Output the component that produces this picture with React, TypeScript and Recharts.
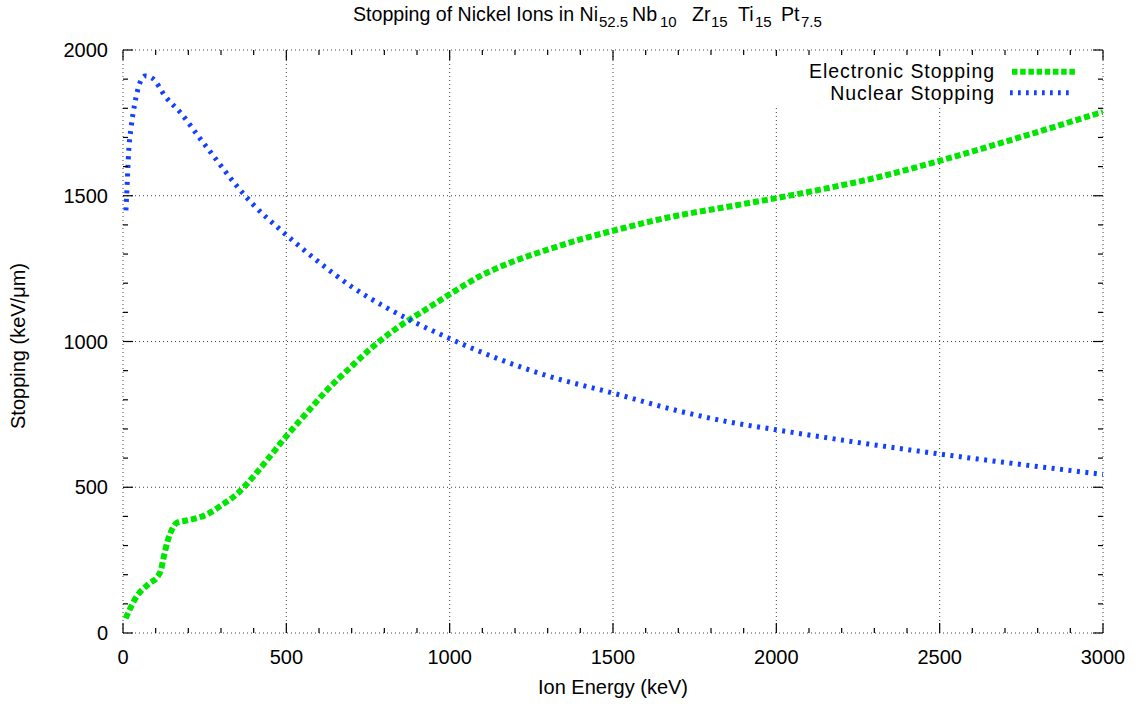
import React from 'react';
import { LineChart, Line, XAxis, YAxis, ReferenceLine, Legend } from 'recharts';

// ---------- data ----------
const X_MAJOR = [0, 500, 1000, 1500, 2000, 2500, 3000];
const Y_MAJOR = [0, 500, 1000, 1500, 2000];
const X_TICKS = [0, 100, 200, 300, 400, 500, 600, 700, 800, 900, 1000, 1100, 1200, 1300, 1400, 1500, 1600, 1700, 1800, 1900, 2000, 2100, 2200, 2300, 2400, 2500, 2600, 2700, 2800, 2900, 3000];
const Y_TICKS = [0, 100, 200, 300, 400, 500, 600, 700, 800, 900, 1000, 1100, 1200, 1300, 1400, 1500, 1600, 1700, 1800, 1900, 2000];

const SERIES_NAMES = ['Electronic Stopping', 'Nuclear Stopping'];

const electronicEnergy = [8, 20, 40, 80, 105, 115, 125, 137, 150, 165, 200, 255, 305, 350, 400, 440, 500, 560, 620, 700, 765, 850, 930, 1000, 1100, 1200, 1300, 1400, 1500, 1680, 1840, 2000, 2130, 2320, 2500, 2750, 3000];
const electronicValue = [50, 80, 122, 170, 192, 212, 262, 317, 355, 378, 387, 406, 441, 478, 538, 592, 675, 752, 828, 915, 982, 1055, 1112, 1162, 1228, 1277, 1315, 1350, 1380, 1428, 1460, 1492, 1520, 1566, 1620, 1702, 1788];

const nuclearEnergy = [9, 13, 17, 25, 36, 51, 68, 90, 130, 180, 230, 280, 340, 400, 480, 600, 700, 800, 900, 1000, 1150, 1300, 1500, 1700, 1850, 2000, 2200, 2500, 2750, 3000];
const nuclearValue = [1450, 1545, 1645, 1736, 1816, 1885, 1911, 1903, 1840, 1780, 1705, 1632, 1545, 1468, 1385, 1272, 1188, 1120, 1062, 1010, 940, 882, 823, 762, 725, 697, 662, 614, 578, 544];

const electronicData = electronicEnergy.map((e, i) => ({ e, v: electronicValue[i] }));
const nuclearData = nuclearEnergy.map((e, i) => ({ e, v: nuclearValue[i] }));

// title fragments: [text, isSubscript]
const TITLE_PARTS: [string, boolean][] = [
  ['Stopping of Nickel Ions in Ni', false],
  ['52.5', true],
  ['Nb', false],
  ['10', true],
  ['Zr', false],
  ['15', true],
  ['Ti', false],
  ['15', true],
  ['Pt', false],
  ['7.5', true],
];

// ---------- layout / style ----------
const W = 1140;
const H = 704;
const MARGIN = { top: 50, right: 37, bottom: 0, left: 0 };
const Y_AXIS_W = 123;
const X_AXIS_H = 71;
const PLOT_LEFT = MARGIN.left + Y_AXIS_W;
const PLOT_RIGHT = W - MARGIN.right;
const PLOT_TOP = MARGIN.top;
const PLOT_BOTTOM = H - X_AXIS_H;
const FONT = '"Liberation Sans", Arial, Helvetica, sans-serif';
const GREEN = '#00e600';
const BLUE = '#1440ff';
const GRID = '#444';
const TITLE_X = [353, 599, 632, 660, 692, 711, 738, 755, 781, 801];

const XTick = (props: any) => {
  const { x, payload } = props;
  const v = payload.value;
  const major = X_MAJOR.includes(v);
  const len = major ? 10 : 5;
  return (
    <g>
      <line x1={x} x2={x} y1={PLOT_BOTTOM} y2={PLOT_BOTTOM - len} stroke="#000" strokeWidth={1.2} />
      <line x1={x} x2={x} y1={PLOT_TOP} y2={PLOT_TOP + len} stroke="#000" strokeWidth={1.2} />
      {major && (
        <text x={x} y={664} textAnchor="middle" fontSize={20} fontFamily={FONT} fill="#000">
          {v}
        </text>
      )}
    </g>
  );
};

const YTick = (props: any) => {
  const { y, payload } = props;
  const v = payload.value;
  const major = Y_MAJOR.includes(v);
  const len = major ? 10 : 5;
  return (
    <g>
      <line x1={PLOT_LEFT} x2={PLOT_LEFT + len} y1={y} y2={y} stroke="#000" strokeWidth={1.2} />
      <line x1={PLOT_RIGHT - len} x2={PLOT_RIGHT} y1={y} y2={y} stroke="#000" strokeWidth={1.2} />
      {major && (
        <text x={PLOT_LEFT - 15} y={y + 7.2} textAnchor="end" fontSize={20} fontFamily={FONT} fill="#000">
          {v}
        </text>
      )}
    </g>
  );
};

const renderLegend = () => (
  <svg width={320} height={49} style={{ display: 'block', background: '#fff' }}>
    <text x={225} y={22} textAnchor="end" fontSize={19.5} letterSpacing={0.95} fontFamily={FONT} fill="#000">
      {SERIES_NAMES[0]}
    </text>
    <line x1={242} x2={306} y1={15.7} y2={15.7} stroke={GREEN} strokeWidth={6} strokeDasharray="5.5 2.7" />
    <text x={225} y={44.3} textAnchor="end" fontSize={19.5} letterSpacing={0.95} fontFamily={FONT} fill="#000">
      {SERIES_NAMES[1]}
    </text>
    <line x1={240} x2={302} y1={36.7} y2={36.7} stroke={BLUE} strokeWidth={5} strokeDasharray="2.7 5.3" />
  </svg>
);

export default function App() {
  return (
    <div style={{ position: 'absolute', left: 0, top: 0, width: W, height: H, background: '#fff', fontFamily: FONT }}>
      <LineChart width={W} height={H} margin={MARGIN} style={{ fontFamily: FONT }}>
        <XAxis
          type="number"
          dataKey="e"
          domain={[0, 3000]}
          ticks={X_TICKS}
          interval={0}
          height={X_AXIS_H}
          axisLine={false}
          tickLine={false}
          tickSize={0}
          tick={XTick}
          allowDataOverflow
          label={() => (
            <text x={613} y={694} textAnchor="middle" fontSize={20} fontFamily={FONT} fill="#000">
              Ion Energy (keV)
            </text>
          )}
        />
        <YAxis
          type="number"
          dataKey="v"
          domain={[0, 2000]}
          ticks={Y_TICKS}
          interval={0}
          width={Y_AXIS_W}
          axisLine={false}
          tickLine={false}
          tickSize={0}
          tick={YTick}
          allowDataOverflow
          label={() => (
            <text transform="translate(25,346) rotate(-90)" textAnchor="middle" fontSize={20} fontFamily={FONT} fill="#000">
              Stopping (keV/μm)
            </text>
          )}
        />
        {X_MAJOR.map((v) => (
          <ReferenceLine key={'gx' + v} x={v} stroke={GRID} strokeWidth={1} strokeDasharray="1 3" />
        ))}
        {Y_MAJOR.map((v) => (
          <ReferenceLine key={'gy' + v} y={v} stroke={GRID} strokeWidth={1} strokeDasharray="1 3" />
        ))}
        <Line
          data={electronicData}
          dataKey="v"
          name={SERIES_NAMES[0]}
          type="monotone"
          stroke={GREEN}
          strokeWidth={6}
          strokeDasharray="6 3"
          strokeLinecap="butt"
          dot={false}
          activeDot={false}
          isAnimationActive={false}
        />
        <Line
          data={nuclearData}
          dataKey="v"
          name={SERIES_NAMES[1]}
          type="monotone"
          stroke={BLUE}
          strokeWidth={5}
          strokeDasharray="3 5.5"
          strokeLinecap="butt"
          dot={false}
          activeDot={false}
          isAnimationActive={false}
        />
        <Legend
          layout="vertical"
          align="center"
          verticalAlign="middle"
          content={renderLegend}
          wrapperStyle={{ position: 'absolute', left: 770, top: 56, width: 320, height: 49, bottom: 'auto', right: 'auto', margin: 0 }}
        />
      </LineChart>
      <svg width={W} height={40} style={{ position: 'absolute', left: 0, top: 0, pointerEvents: 'none' }}>
        <text fontFamily={FONT} fill="#000">
          {TITLE_PARTS.map(([t, sub], i) => (
            <tspan key={i} x={TITLE_X[i]} y={sub ? 27 : 21} fontSize={sub ? 15 : 19.6}>
              {t}
            </tspan>
          ))}
        </text>
      </svg>
    </div>
  );
}
